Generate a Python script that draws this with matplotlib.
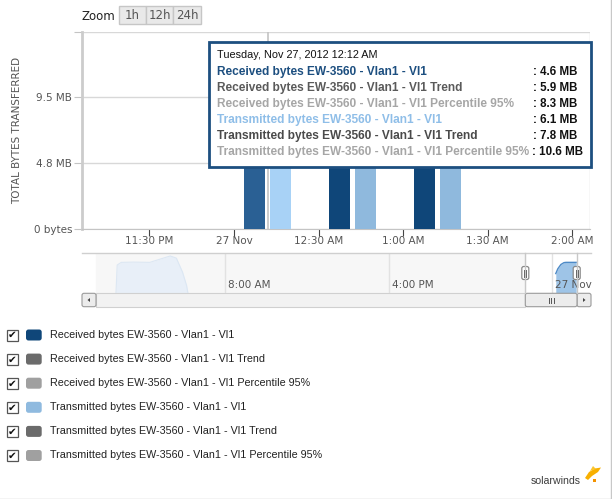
import matplotlib
matplotlib.use("Agg")
import matplotlib.pyplot as plt
from matplotlib.patches import Rectangle, FancyBboxPatch, Polygon

# ── data ──────────────────────────────────────────────────────────────────────
# bar times in minutes after midnight, 27 Nov 2012
bar_minutes = [12, 42, 72]
received_mb = [4.6, 5.3, 5.6]
transmitted_mb = [6.1, 6.6, 7.0]

x_ticks_min = [-30, 0, 30, 60, 90, 120]
x_tick_labels = ["11:30 PM", "27 Nov", "12:30 AM", "1:00 AM", "1:30 AM", "2:00 AM"]

y_ticks_mb = [0, 5e6 / 2**20, 10e6 / 2**20, 15e6 / 2**20]
y_tick_labels = ["0 bytes", "4.8 MB", "9.5 MB", ""]

# navigator series (hours relative to midnight 27 Nov, MB)
nav_prev_hours = [-21.36, -21.3, -21.1, -20.5, -19.7, -19.2, -18.7, -18.4, -18.1, -17.9, -17.83]
nav_prev_mb = [0, 5.3, 5.8, 5.85, 5.8, 6.4, 7.0, 6.6, 4.0, 1.5, 0]
nav_cur_hours = [0.2, 0.3, 0.45, 0.6, 0.7, 0.95, 1.2]
nav_cur_mb = [3.7, 4.6, 5.4, 5.75, 5.8, 5.8, 5.8]
nav_ticks_h = [-16, -8, 0]
nav_tick_labels = ["8:00 AM", "4:00 PM", "27 Nov"]

tooltip_title = "Tuesday, Nov 27, 2012 12:12 AM"
series_names = [
    "Received bytes EW-3560 - Vlan1 - Vl1",
    "Received bytes EW-3560 - Vlan1 - Vl1 Trend",
    "Received bytes EW-3560 - Vlan1 - Vl1 Percentile 95%",
    "Transmitted bytes EW-3560 - Vlan1 - Vl1",
    "Transmitted bytes EW-3560 - Vlan1 - Vl1 Trend",
    "Transmitted bytes EW-3560 - Vlan1 - Vl1 Percentile 95%",
]
tooltip_values = ["4.6 MB", "5.9 MB", "8.3 MB", "6.1 MB", "7.8 MB", "10.6 MB"]
tooltip_colors = ["#1d4f80", "#5a5a5a", "#a6a6a6", "#8fbee8", "#4a4a4a", "#a6a6a6"]
legend_colors = ["#0f4679", "#6b6b6b", "#a0a0a0", "#8fbadf", "#6b6b6b", "#a0a0a0"]

W, H = 612, 499
SANS = ["Liberation Sans", "DejaVu Sans"]
AXF = ["DejaVu Sans"]


def rect(x0, y0, x1, y1):
    return [x0 / W, 1 - y1 / H, (x1 - x0) / W, (y1 - y0) / H]


fig = plt.figure(figsize=(W / 100, H / 100), dpi=100)

# ── main chart ────────────────────────────────────────────────────────────────
ax = fig.add_axes(rect(82, 31.5, 590, 228.5))
px_per_min = 84.6 / 30
ax.set_xlim((82 - 234) / px_per_min, (590 - 234) / px_per_min)
ax.set_ylim(0, y_ticks_mb[-1])

bw = 21 / px_per_min
off = 13 / px_per_min
rx_cols = ["#2a6094", "#0f4679", "#0f4679"]
tx_cols = ["#a8d2f6", "#8fb9dd", "#8fb9dd"]
ax.bar([t - off for t in bar_minutes], received_mb, width=bw, color=rx_cols, zorder=3)
ax.bar([t + off for t in bar_minutes], transmitted_mb, width=bw, color=tx_cols, zorder=3)
ax.axvline(bar_minutes[0], color="#c4c4c4", lw=1.2, zorder=2)
ax.axvline(ax.get_xlim()[1], color="#d8d8d8", lw=1, zorder=1)

ax.set_yticks(y_ticks_mb, y_tick_labels)
ax.set_xticks(x_ticks_min, x_tick_labels)
ax.grid(axis="y", color="#d8d8d8", lw=1)
ax.set_axisbelow(True)
for s in ("top", "right"):
    ax.spines[s].set_visible(False)
ax.spines["left"].set_color("#cccccc")
ax.spines["left"].set_linewidth(2)
ax.spines["bottom"].set_color("#c4c4c4")
ax.tick_params(axis="y", length=6, color="#c4c4c4", labelsize=7.5, labelcolor="#555555", pad=1)
ax.tick_params(axis="x", length=5, color="#444444", labelsize=7.5, labelcolor="#555555", pad=0.5)
for lab in ax.get_xticklabels() + ax.get_yticklabels():
    lab.set_family(AXF)

# ── navigator ────────────────────────────────────────────────────────────────
nav = fig.add_axes(rect(82, 253.3, 591, 293.3))
px_per_h = 20.4
nav.set_xlim((82 - 551.7) / px_per_h, (591 - 551.7) / px_per_h)
nav.set_ylim(0, 7.5)
nav.axvspan((96 - 551.7) / px_per_h, (525.3 - 551.7) / px_per_h, color="#f7f7f7", zorder=0)
for h in nav_ticks_h:
    nav.axvline(h, color="#e2e2e2", lw=1, zorder=1)
nav.fill_between(nav_prev_hours, nav_prev_mb, color="#e8eff8", lw=0, zorder=2)
nav.plot(nav_prev_hours, nav_prev_mb, color="#dce7f3", lw=0.8, zorder=2)
nav.fill_between(nav_cur_hours, nav_cur_mb, color="#9ec4e7", lw=0, zorder=2)
nav.plot(nav_cur_hours, nav_cur_mb, color="#4d8ac7", lw=1, zorder=3)
for h, lab in zip(nav_ticks_h, nav_tick_labels):
    nav.text(h + 3 / px_per_h, 1.5, lab, fontsize=7.5, color="#555555",
             family=AXF, va="center", ha="left", zorder=4)
nav.set_xticks([])
nav.set_yticks([])
for s in nav.spines.values():
    s.set_visible(False)
nav.patch.set_alpha(0)

# ── overlay: controls, tooltip, legend ───────────────────────────────────────
ov = fig.add_axes([0, 0, 1, 1], zorder=10)
ov.set_xlim(0, W)
ov.set_ylim(H, 0)
ov.axis("off")
ov.patch.set_alpha(0)

# zoom buttons
ov.text(82, 16.5, "Zoom", fontsize=8.5, color="#222222", family=AXF, va="center")
for (x0, x1), lab in zip([(119.3, 146), (146, 173.3), (173.3, 200.7)], ["1h", "12h", "24h"]):
    ov.add_patch(Rectangle((x0, 6), x1 - x0, 18.3, fc="#e9e9e9", ec="#c6c6c6", lw=1))
    ov.text((x0 + x1) / 2, 15.5, lab, fontsize=8.5, color="#555555", family=AXF,
            ha="center", va="center")

# y axis title
ov.text(17, 130, "TOTAL BYTES TRANSFERRED", fontsize=7.5, color="#555555", family=AXF,
        rotation=90, ha="center", va="center")

# navigator chrome
ov.plot([82, 591], [253.3, 253.3], color="#cfcfcf", lw=1)
for xh in (525.3, 576.7):
    ov.plot([xh, xh], [253.3, 293.3], color="#c8c8c8", lw=1)
    ov.add_patch(FancyBboxPatch((xh - 3.5, 266.5), 7, 13, boxstyle="round,pad=0,rounding_size=2",
                                fc="white", ec="#8a8a8a", lw=0.9))
    ov.plot([xh - 1, xh - 1], [269.5, 276.5], color="#666666", lw=0.7)
    ov.plot([xh + 1, xh + 1], [269.5, 276.5], color="#666666", lw=0.7)

# scrollbar
ov.add_patch(Rectangle((96, 293.3), 429.3, 13.4, fc="#f2f2f2", ec="#d0d0d0", lw=0.8))
for bx in (82, 577):
    ov.add_patch(FancyBboxPatch((bx, 293.3), 14, 13.4, boxstyle="round,pad=0,rounding_size=2",
                                fc="#ececec", ec="#9a9a9a", lw=0.8))
ov.add_patch(FancyBboxPatch((525.3, 293.3), 51.7, 13.4, boxstyle="round,pad=0,rounding_size=2",
                            fc="#ececec", ec="#9a9a9a", lw=0.8))
ov.add_patch(Polygon([[87.5, 300], [90, 298], [90, 302]], closed=True, fc="#444444", ec="none"))
ov.add_patch(Polygon([[585.5, 300], [583, 298], [583, 302]], closed=True, fc="#444444", ec="none"))
for gx in (548.5, 551, 553.5):
    ov.plot([gx, gx], [297.5, 302.5], color="#555555", lw=0.7)

# tooltip
ov.add_patch(Rectangle((209, 42.3), 382, 124.4, fc="white", ec="#1d4f80", lw=2))
ov.text(217.3, 55, tooltip_title, fontsize=7.8, color="#111111", family=SANS, va="center")
for i, (name, val, col) in enumerate(zip(series_names, tooltip_values, tooltip_colors)):
    y = 71.7 + 16 * i
    ov.text(217.3, y, name, fontsize=8.55, fontweight="bold", color=col, family=SANS, va="center")
    vx = 531.7 if i == 5 else 533.3
    ov.text(vx, y, ": " + val, fontsize=8.3, fontweight="bold", color="#111111",
            family=SANS, va="center")

# legend
for i, (name, col) in enumerate(zip(series_names, legend_colors)):
    y = 335 + 24.1 * i
    ov.add_patch(Rectangle((7, y - 5.5), 11, 11, fc="white", ec="#555555", lw=0.9))
    ov.text(12.5, y + 0.3, "\u2714", fontsize=7.5, color="#111111", family=AXF,
            ha="center", va="center")
    ov.add_patch(FancyBboxPatch((26, y - 5.5), 15.7, 11, boxstyle="round,pad=0,rounding_size=2.5",
                                fc=col, ec="none"))
    ov.text(50, y, name, fontsize=7.75, color="#222222", family=SANS, va="center")

# logo
ov.text(531, 481, "solarwinds", fontsize=7.6, color="#3c3c3c", family=SANS, va="center")
ov.add_patch(Polygon([[585, 478], [589, 472], [595, 468.5], [601, 467.5], [598, 472],
                      [592, 476], [588, 480]], closed=True, fc="#f8b000", ec="none"))
ov.add_patch(Polygon([[590, 471], [593, 466], [596, 469]], closed=True, fc="#fbc52e", ec="none"))
ov.add_patch(Rectangle((593, 479), 3, 3, fc="#f39200", ec="none"))

# outer frame (right / bottom)
ov.plot([611, 611], [0, 498.5], color="#c8c8c8", lw=1)
ov.plot([0, 611], [498.5, 498.5], color="#c8c8c8", lw=1)

fig.savefig("out.png", dpi=100)
